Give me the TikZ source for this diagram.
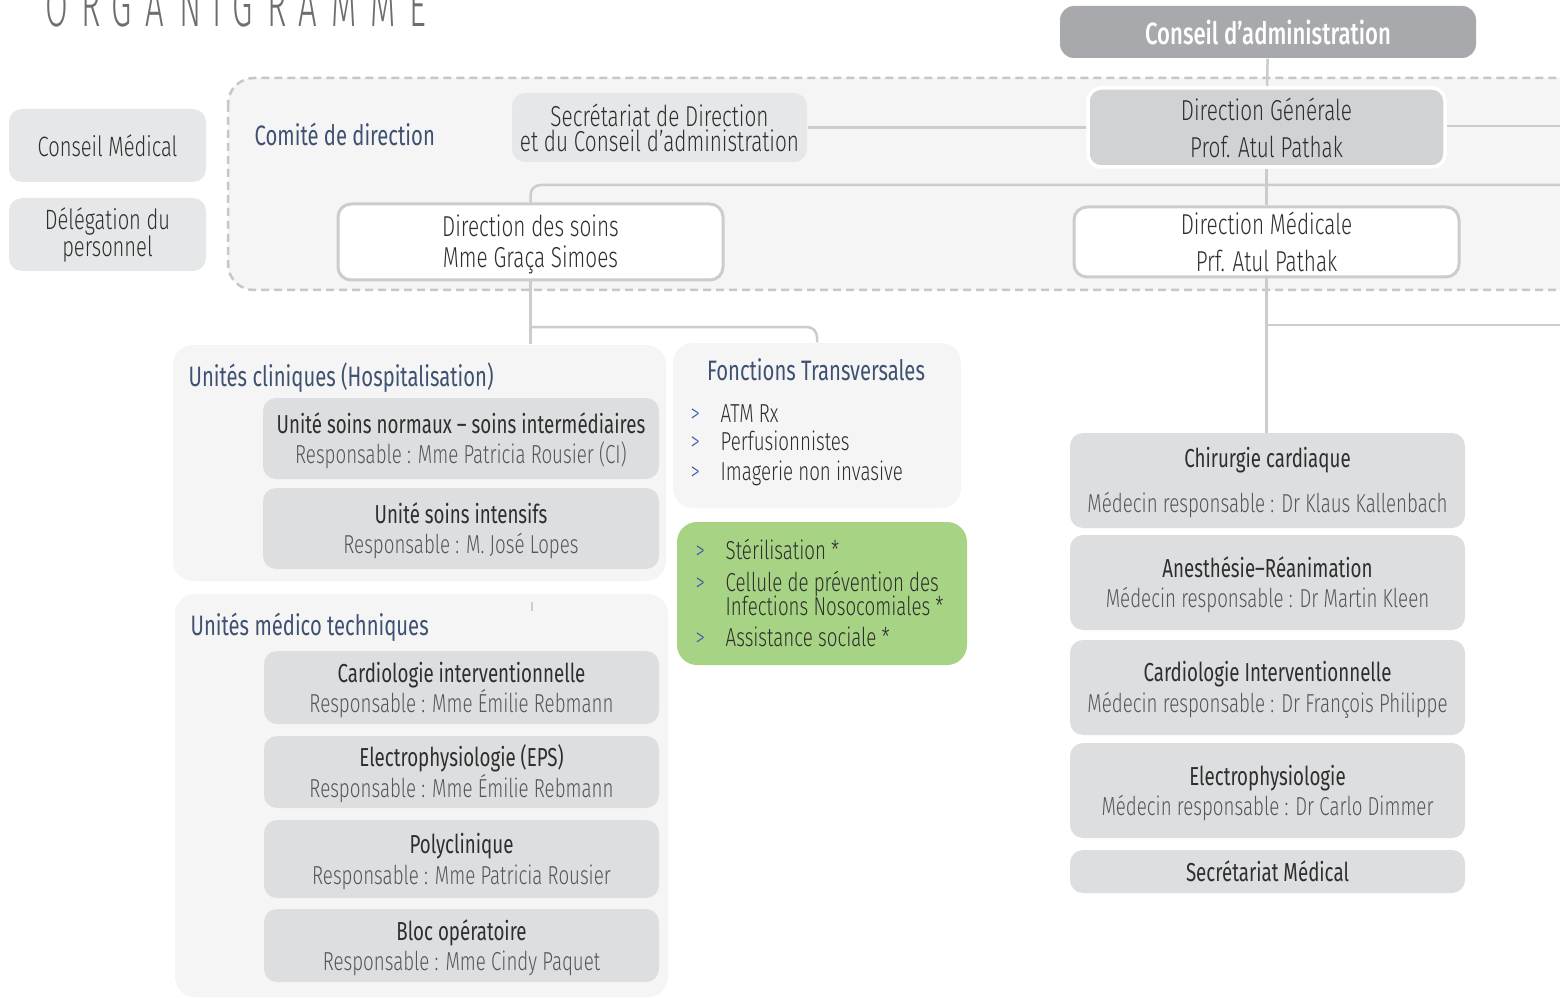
\documentclass[tikz,border=0pt]{standalone}
\usepackage{fontspec}
\setmainfont{Fira Sans}[UprightFont={* Light}, BoldFont={Fira Sans}, FakeStretch=0.72]
\newfontfamily\mediumfont{Fira Sans Medium}[FakeStretch=0.72]
\usetikzlibrary{positioning}

\definecolor{boxgray}{HTML}{E6E7E8}
\definecolor{unitgray}{HTML}{DDDEE0}
\definecolor{panelgray}{HTML}{F5F5F5}
\definecolor{dggray}{HTML}{D1D2D4}
\definecolor{cagray}{HTML}{A7A9AC}
\definecolor{linegray}{HTML}{CBCCCE}
\definecolor{dashgray}{HTML}{C6C7C9}
\definecolor{greenbox}{HTML}{A7D384}
\definecolor{headblue}{HTML}{3E5170}
\definecolor{chevblue}{HTML}{3F5AA6}
\definecolor{txtdark}{HTML}{2E2E2E}
\definecolor{txtgray}{HTML}{555658}
\definecolor{titlegray}{HTML}{6D6E71}

\newcommand\unittitle[1]{{\color{txtdark}\bfseries\rule{0pt}{7.2pt}#1}}

\tikzset{
  link/.style={draw=linegray, line width=0.25mm},
  box/.style={rounded corners=1.3mm, align=center, inner sep=0pt, text=txtgray,
    font=\fontsize{7.4}{8.8}\selectfont},
  topbox/.style={box, text=txtdark, font=\fontsize{8.2}{8.8}\selectfont},
  graybox/.style={box, fill=boxgray},
  unitbox/.style={box, fill=unitgray},
  whitebox/.style={topbox, fill=white, draw=linegray, line width=0.3mm},
  panel/.style={fill=panelgray, rounded corners=2mm, inner sep=0pt},
  heading/.style={inner sep=0pt, text=headblue, font=\fontsize{8}{9}\selectfont\bfseries},
  item/.style={inner sep=0pt, anchor=base west, text=txtdark, font=\fontsize{7.4}{6.8}\selectfont},
  chev/.style={inner sep=0pt, anchor=base west, text=chevblue, font=\fontsize{7.4}{7}\selectfont},
  titlelet/.style={inner sep=0pt, anchor=base, text=titlegray,
    font=\fontsize{17}{17}\selectfont\addfontfeature{FakeStretch=0.55}}
}

\begin{document}
\lineskiplimit=-20pt
\begin{tikzpicture}[x=0.1mm, y=-0.1mm]
  \useasboundingbox[fill=white] (0,0) rectangle (1560,998);

  % title, cut at the top
  \foreach \l/\x in {O/57,R/91,G/122,A/155,N/191,I/217,G/243,R/277,A/308,M/344,M/383,E/418}
    \node[titlelet] (ttl\x) at (\x,27) {\l};

  % comite de direction area
  \draw[fill=panelgray, draw=dashgray, line width=0.25mm, dash pattern=on 0.8mm off 0.5mm,
    rounded corners=2.6mm] (228,78) rectangle (1620,290);
  \node[heading, anchor=west] (comite) at (254,134) {Comité de direction};

  % left boxes
  \node[graybox, minimum width=19.7mm, minimum height=7.3mm, text=txtdark,
    font=\fontsize{7.95}{8.8}\selectfont] (cmed) at (107.5,145.5) {Conseil Médical};
  \node[graybox, minimum width=19.7mm, minimum height=7.3mm, text=txtdark,
    font=\fontsize{7.95}{7.7}\selectfont] (deleg) at (107.5,234.5) {Délégation du\\personnel};

  % top
  \node[box, fill=cagray, text=white, minimum width=41.6mm, minimum height=5.2mm,
    rounded corners=1.4mm, font=\fontsize{8.75}{9}\selectfont\mediumfont] (ca) at (1268,32) {Conseil d’administration};
  \node[graybox, topbox, minimum width=29.5mm, minimum height=6.9mm,
    font=\fontsize{8.2}{7.1}\selectfont] (secr) at (659.5,127.5)
    {Secrétariat de Direction\\et du Conseil d’administration};
  \node[topbox, fill=dggray, draw=white, line width=0.35mm, minimum width=35.7mm,
    minimum height=7.9mm] (dg) at (1266.5,127.5) {Direction Générale\\[1.7pt]Prof. Atul Pathak};
  \node[whitebox, minimum width=38.5mm, minimum height=7.6mm] (dsoins) at (530.5,242)
    {\rule{0pt}{7.4pt}Direction des soins\\Mme Graça Simoes};
  \node[whitebox, minimum width=38.5mm, minimum height=7.0mm] (dmed) at (1266.5,242)
    {Direction Médicale\\[1.7pt]Prf. Atul Pathak};

  \coordinate (eastA) at (1560,126);
  \coordinate (eastB) at (1560,185);
  \coordinate (eastC) at (1560,325);

  % links of the direction
  \draw[link] (ca) -- (dg);
  \draw[link] (secr) -- (dg);
  \draw[link] (dg.east |- eastA) -- (eastA);
  \draw[link] (dg) -- (dmed);
  \draw[link, rounded corners=1mm] (dsoins.north) -- (dsoins.north |- eastB) -- (eastB);

  % panels
  \node[panel, minimum width=49.3mm, minimum height=23.6mm] (clin) at (419.5,463) {};
  \node[panel, minimum width=28.8mm, minimum height=16.5mm] (transv) at (817,425.5) {};
  \node[panel, fill=greenbox, minimum width=29.0mm, minimum height=14.3mm] (green) at (822,593.5) {};
  \node[panel, minimum width=49.3mm, minimum height=40.3mm] (medtech) at (421.5,795.5) {};

  \draw[link] (dsoins) -- (dsoins.south |- clin.north);
  \draw[link, rounded corners=1mm] (dsoins.south |- 0,327) -| (transv.north);
  \draw[link] (dmed) -- (dmed.south |- 0,433);
  \draw[link] (dmed.south |- eastC) -- (eastC);
  \coordinate (tick) at (532,602);
  \draw[link] (tick) -- ++(0,9);

  % unites cliniques
  \node[heading, anchor=west] (clinttl) at (188,378) {Unités cliniques (Hospitalisation)};
  \node[unitbox, minimum width=39.6mm, minimum height=8.1mm] (u1) at (461,438.5)
    {\unittitle{Unité soins normaux – soins intermédiaires}\\Responsable : Mme Patricia Rousier (CI)};
  \node[unitbox, minimum width=39.6mm, minimum height=8.1mm] (u2) at (461,528.5)
    {\unittitle{Unité soins intensifs}\\Responsable : M. José Lopes};

  % fonctions transversales
  \node[heading] (transvttl) at (816,370) {Fonctions Transversales};
  \node[chev] (c1) at (690,422) {>};
  \node[item] (t1) at (720,422) {ATM Rx};
  \node[chev] (c2) at (690,450) {>};
  \node[item] (t2) at (720,450) {Perfusionnistes};
  \node[chev] (c3) at (690,480) {>};
  \node[item] (t3) at (720,480) {Imagerie non invasive};

  % green box
  \node[chev] (g1) at (695,559) {>};
  \node[item] (s1) at (725,559) {Stérilisation *};
  \node[chev] (g2) at (695,591) {>};
  \node[item, align=left] (s2) at (725,615)
    {Cellule de prévention des\\Infections Nosocomiales *};
  \node[chev] (g3) at (695,646) {>};
  \node[item] (s3) at (725,646) {Assistance sociale *};

  % unites medico techniques
  \node[heading, anchor=west] (medttl) at (190,627) {Unités médico techniques};
  \node[unitbox, minimum width=39.5mm, minimum height=7.3mm] (m1) at (461.5,687.5)
    {\unittitle{Cardiologie interventionnelle}\\Responsable : Mme Émilie Rebmann};
  \node[unitbox, minimum width=39.5mm, minimum height=7.2mm] (m2) at (461.5,772)
    {\unittitle{Electrophysiologie (EPS)}\\Responsable : Mme Émilie Rebmann};
  \node[unitbox, minimum width=39.5mm, minimum height=7.8mm] (m3) at (461.5,859)
    {\unittitle{Polyclinique}\\Responsable : Mme Patricia Rousier};
  \node[unitbox, minimum width=39.5mm, minimum height=7.3mm] (m4) at (461.5,945.5)
    {\unittitle{Bloc opératoire}\\Responsable : Mme Cindy Paquet};

  % direction medicale
  \node[unitbox, minimum width=39.5mm, minimum height=9.5mm] (chir) at (1267.5,480.5)
    {\unittitle{Chirurgie cardiaque}\\[4pt]Médecin responsable : Dr Klaus Kallenbach};
  \node[unitbox, minimum width=39.5mm, minimum height=9.5mm] (anest) at (1267.5,582.5)
    {\unittitle{Anesthésie–Réanimation}\\Médecin responsable : Dr Martin Kleen};
  \node[unitbox, minimum width=39.5mm, minimum height=9.5mm] (cardio) at (1267.5,687.5)
    {\unittitle{Cardiologie Interventionnelle}\\Médecin responsable : Dr François Philippe};
  \node[unitbox, minimum width=39.5mm, minimum height=9.5mm] (electro) at (1267.5,790.5)
    {\unittitle{Electrophysiologie}\\Médecin responsable : Dr Carlo Dimmer};
  \node[unitbox, minimum width=39.5mm, minimum height=4.3mm, text=txtdark, font=\fontsize{7.4}{8.8}\selectfont\bfseries]
    (secmed) at (1267.5,871.5) {Secrétariat Médical};
\end{tikzpicture}
\end{document}
